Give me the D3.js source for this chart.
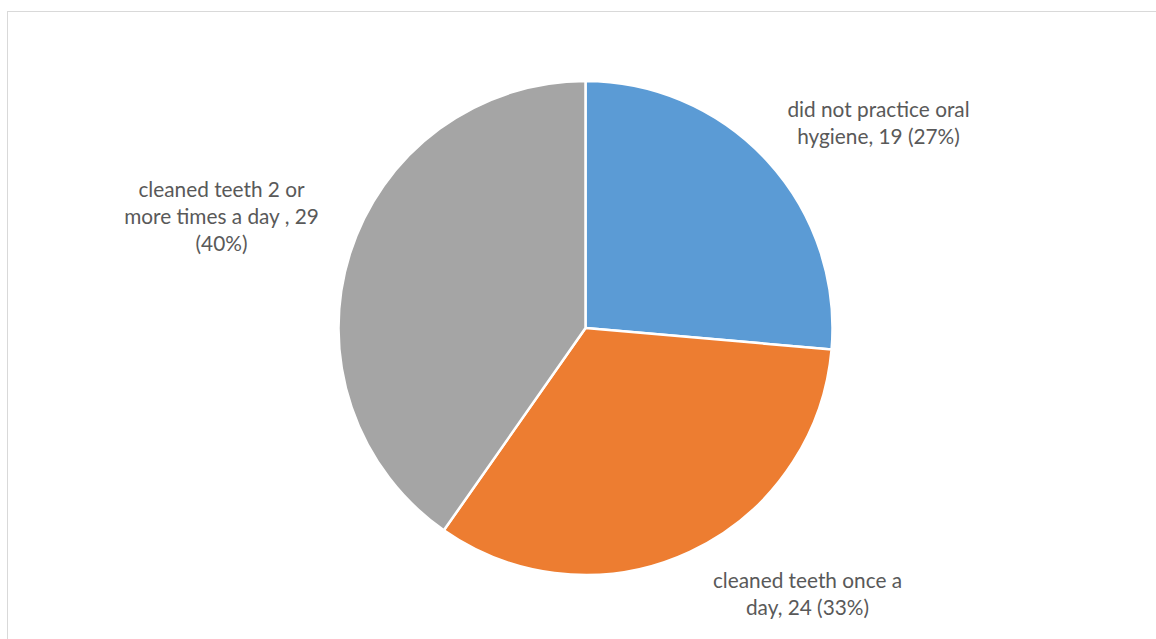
<!DOCTYPE html>
<html><head><meta charset="utf-8">
<script src="https://cdn.jsdelivr.net/npm/d3@7"></script>
<style>body{margin:0;background:#fff}svg{display:block}</style>
</head><body>
<script>
const categories = ["did not practice oral hygiene", "cleaned teeth once a day", "cleaned teeth 2 or more times a day "];
const values = [19, 24, 29];
const percents = ["27%", "33%", "40%"];
const colors = ["#5b9bd5", "#ed7d31", "#a5a5a5"];
const labelLines = [
  ["did not practice oral", "hygiene, 19 (27%)"],
  ["cleaned teeth once a", "day, 24 (33%)"],
  ["cleaned teeth 2 or", "more times a day , 29", "(40%)"]
];
const labelPos = [[878.5, 117], [807.5, 588], [221.5, 197]];

const W = 1156, H = 639;
const svg = d3.select("body").append("svg").attr("width", W).attr("height", H);
svg.append("rect").attr("x", 7.5).attr("y", 11.5).attr("width", W).attr("height", H)
  .attr("fill", "#fff").attr("stroke", "#d9d9d9").attr("stroke-width", 1);

const cx = 585.5, cy = 328, r = 247;
const pie = d3.pie().sort(null).value(d => d);
const arc = d3.arc().innerRadius(0).outerRadius(r);
const g = svg.append("g").attr("transform", `translate(${cx},${cy})`);
g.selectAll("path").data(pie(values)).join("path")
  .attr("d", arc).attr("fill", (d, i) => colors[i])
  .attr("stroke", "#fff").attr("stroke-width", 2.5).attr("stroke-linejoin", "round");

labelLines.forEach((lines, i) => {
  const t = svg.append("text").attr("text-anchor", "middle")
    .attr("font-family", "Lato, 'Open Sans', sans-serif").attr("font-size", 20.8)
    .attr("fill", "#595959");
  lines.forEach((ln, j) => {
    t.append("tspan").attr("x", labelPos[i][0]).attr("y", labelPos[i][1] + j * 27).text(ln);
  });
});
</script>
</body></html>
